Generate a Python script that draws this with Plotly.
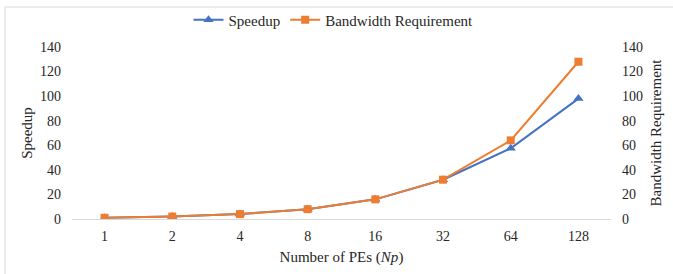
import plotly.graph_objects as go

categories = ["1", "2", "4", "8", "16", "32", "64", "128"]
speedup = [1, 2, 4, 8, 16, 32, 57.5, 98]
bandwidth = [1, 2, 4, 8, 16, 32, 64, 128]
tick_vals = [0, 20, 40, 60, 80, 100, 120, 140]

FONT = "Liberation Serif, Times New Roman, serif"
BLUE = "#4472C4"
ORANGE = "#ED7D31"
TXT = "#262626"

L, R, T, B = 72, 62, 47, 55
PW = 673 - L - R
PH = 274 - T - B

fig = go.Figure()
fig.add_trace(go.Scatter(
    x=categories, y=speedup, name="Speedup", mode="lines+markers",
    line=dict(color=BLUE, width=2),
    marker=dict(symbol="triangle-up", size=9, color=BLUE),
))
fig.add_trace(go.Scatter(
    x=categories, y=bandwidth, name="Bandwidth Requirement", mode="lines+markers",
    line=dict(color=ORANGE, width=2),
    marker=dict(symbol="square", size=8, color=ORANGE),
    yaxis="y2",
))

fig.update_layout(
    width=673, height=274,
    margin=dict(l=L, r=R, t=T, b=B, autoexpand=False),
    paper_bgcolor="white", plot_bgcolor="white",
    font=dict(family=FONT, size=14, color=TXT),
    showlegend=True,
    legend=dict(orientation="h", x=0.5 - 8 / PW, xanchor="center", y=1 + 27 / PH, yanchor="middle",
                font=dict(family=FONT, size=15, color=TXT),
                itemwidth=30, tracegroupgap=0, bgcolor="rgba(0,0,0,0)"),
    xaxis=dict(type="category", showgrid=False, showline=True, linecolor="#d9d9d9",
               linewidth=1, ticks="", tickfont=dict(size=14), automargin=False,
               ticklabelstandoff=4,
               title=dict(text="Number of PEs (<i>Np</i>)", font=dict(size=15), standoff=8)),
    yaxis=dict(range=[0, 140], tickvals=tick_vals, showgrid=False, zeroline=False,
               showline=False, ticks="", tickfont=dict(size=14), automargin=False,
               ticklabelstandoff=10,
               title=dict(text="Speedup", font=dict(size=15), standoff=3)),
    yaxis2=dict(range=[0, 140], tickvals=tick_vals, overlaying="y", side="right",
                showgrid=False, zeroline=False, showline=False, ticks="",
                tickfont=dict(size=14), automargin=False, ticklabelstandoff=10,
                title=dict(text="Bandwidth Requirement", font=dict(size=15), standoff=8)),
    shapes=[
        dict(type="rect", xref="paper", yref="paper",
             x0=-(L - 5) / PW, x1=1 + (R + 10) / PW, y0=-(B + 10) / PH, y1=1 + (T - 7) / PH,
             line=dict(color="#d9d9d9", width=1), fillcolor="rgba(0,0,0,0)", layer="below"),
    ],
)

fig.write_html("out.html", config={"displayModeBar": False},
               post_script="document.body.style.margin='0';document.body.style.overflow='hidden';")
